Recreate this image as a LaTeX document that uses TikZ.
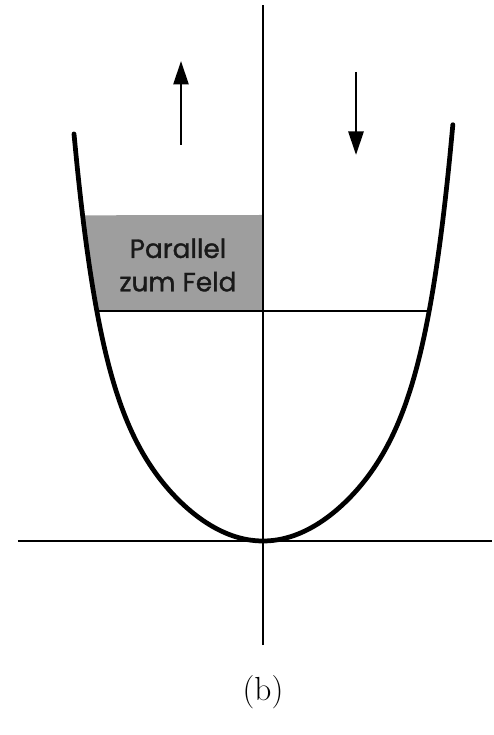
\documentclass[tikz,border=0pt]{standalone}
\usepackage{fontspec}
\newfontfamily\feldfont[FakeBold=1.2]{Poppins}
\usetikzlibrary{arrows.meta}

\begin{document}
\begin{tikzpicture}[x=2cm, y=2cm, >={Triangle[length=0.47cm,width=0.3cm]},
  declare function={f(\x)=0.57*\x*\x+0.0125*(\x*\x)^4;},
  achse/.style={line width=0.7pt},
  kurve/.style={line width=2.7pt, line cap=round},
  pfeil/.style={->, line width=1.6pt}]
  \useasboundingbox (-2.63,-1.94) rectangle (2.31,5.41);

  % --- graue Flaeche ---
  \fill[black!38] plot[domain=-1.804:-1.661, samples=20] (\x,{f(\x)})
    -- (0,2.30) -- (0,3.26) -- cycle;
  \node[font=\feldfont\fontsize{15}{19}\selectfont, align=center, text=black!90]
    (feld) at (-0.85,2.76) {Parallel\\zum Feld};

  % --- Achsen ---
  \coordinate (xl) at (-2.45,0);
  \coordinate (xr) at (2.29,0);
  \coordinate (yu) at (0,-1.04);
  \coordinate (yo) at (0,5.36);
  \draw[achse] (xl) -- (xr);
  \draw[achse] (yu) -- (yo);

  % --- Fermi-Niveau ---
  \coordinate (fl) at (-1.661,2.30);
  \coordinate (fr) at (1.661,2.30);
  \draw[achse] (fl) -- (fr);

  % --- Parabel ---
  \draw[kurve] plot[domain=-1.89:1.90, samples=121, smooth] (\x,{f(\x)});

  % --- Spinpfeile ---
  \coordinate (a1) at (-0.82,3.96);
  \coordinate (a2) at (-0.82,4.80);
  \coordinate (b1) at (0.93,4.69);
  \coordinate (b2) at (0.93,3.86);
  \draw[pfeil] (a1) -- (a2);
  \draw[pfeil] (b1) -- (b2);

  \node[font=\fontsize{19}{21}\selectfont] (label) at (0,-1.51) {(b)};
\end{tikzpicture}
\end{document}
